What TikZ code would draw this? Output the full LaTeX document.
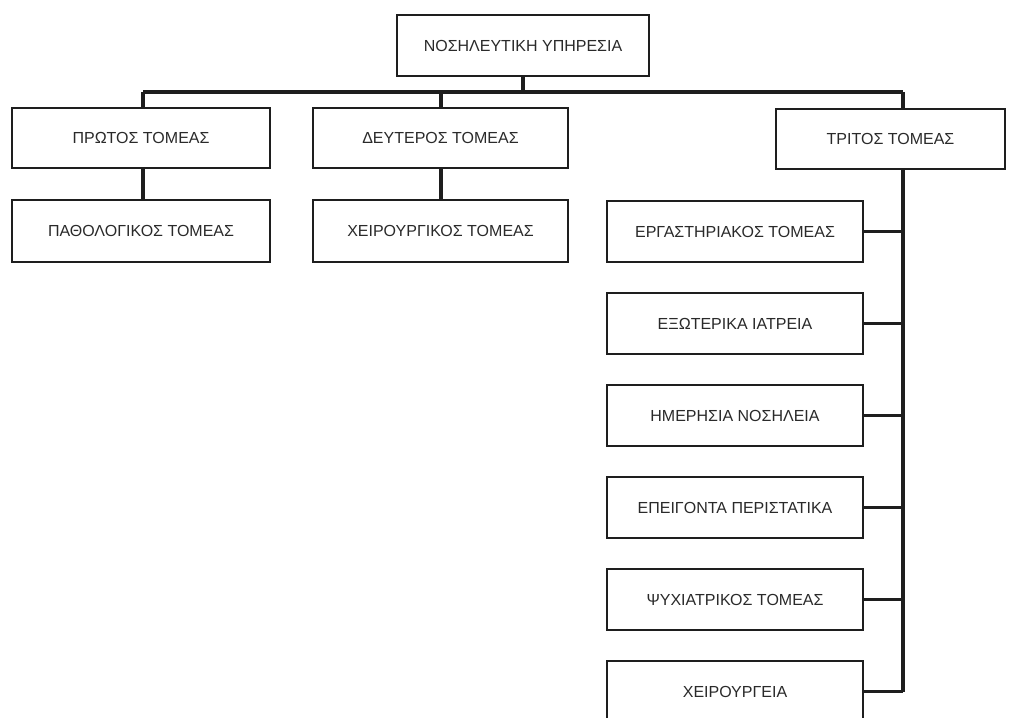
\documentclass[tikz,border=0pt]{standalone}
\usepackage{fontspec}
\setmainfont{Liberation Sans}
\definecolor{ink}{HTML}{1E1E1E}
\definecolor{txt}{HTML}{2A2A2A}
\begin{document}
\begin{tikzpicture}[x=1pt,y=-1pt,
  box/.style={draw=ink, line width=1.4pt, fill=white, text=txt,
    font=\fontsize{16}{18}\selectfont, inner sep=0pt, minimum height=61pt},
  wide/.style={minimum width=256pt},
  link/.style={draw=ink, line width=3.2pt}]
  \clip (0,0) rectangle (1016,717);
  \fill[white] (0,0) rectangle (1016,717);

  % bus coordinates
  \coordinate (busM) at (523,92);
  \coordinate (busL) at (143,92);
  \coordinate (busC) at (441,92);
  \coordinate (busR) at (903,92);
  \coordinate (spineEnd) at (903,692);

  % top
  \node[box, minimum width=252pt] (root) at (523,45.5) {ΝΟΣΗΛΕΥΤΙΚΗ ΥΠΗΡΕΣΙΑ};

  % first level
  \node[box, minimum width=258pt, minimum height=60pt] (s1) at (141,138) {ΠΡΩΤΟΣ ΤΟΜΕΑΣ};
  \node[box, minimum width=255pt, minimum height=60pt] (s2) at (440.5,138) {ΔΕΥΤΕΡΟΣ ΤΟΜΕΑΣ};
  \node[box, minimum width=229pt, minimum height=60pt] (s3) at (890.5,139) {ΤΡΙΤΟΣ ΤΟΜΕΑΣ};

  % second level, first two sectors
  \node[box, minimum width=258pt, minimum height=62pt] (p1) at (141,231) {ΠΑΘΟΛΟΓΙΚΟΣ ΤΟΜΕΑΣ};
  \node[box, minimum width=255pt, minimum height=62pt] (p2) at (440.5,231) {ΧΕΙΡΟΥΡΓΙΚΟΣ ΤΟΜΕΑΣ};

  % third sector units
  \node[box, wide] (t1) at (735,231.5) {ΕΡΓΑΣΤΗΡΙΑΚΟΣ ΤΟΜΕΑΣ};
  \node[box, wide] (t2) at (735,323.5) {ΕΞΩΤΕΡΙΚΑ ΙΑΤΡΕΙΑ};
  \node[box, wide] (t3) at (735,415.5) {ΗΜΕΡΗΣΙΑ ΝΟΣΗΛΕΙΑ};
  \node[box, wide] (t4) at (735,507.5) {ΕΠΕΙΓΟΝΤΑ ΠΕΡΙΣΤΑΤΙΚΑ};
  \node[box, wide] (t5) at (735,599.5) {ΨΥΧΙΑΤΡΙΚΟΣ ΤΟΜΕΑΣ};
  \node[box, wide] (t6) at (735,691.5) {ΧΕΙΡΟΥΡΓΕΙΑ};

  % connectors
  \path[link] (busL) -- (busR);
  \path[link] (root.south) -- (busM);
  \path[link] (busL) -- (s1.north -| busL);
  \path[link] (busC) -- (s2.north -| busC);
  \path[link] (busR) -- (s3.north -| busR);
  \path[link] (s1.south -| busL) -- (p1.north -| busL);
  \path[link] (s2.south -| busC) -- (p2.north -| busC);
  \path[link] (s3.south -| spineEnd) -- (spineEnd);

  % branches from the spine
  \foreach \n in {t1,t2,t3,t4,t5,t6}
    \path[link] (\n.east) -- (\n.east -| spineEnd);
\end{tikzpicture}
\end{document}
